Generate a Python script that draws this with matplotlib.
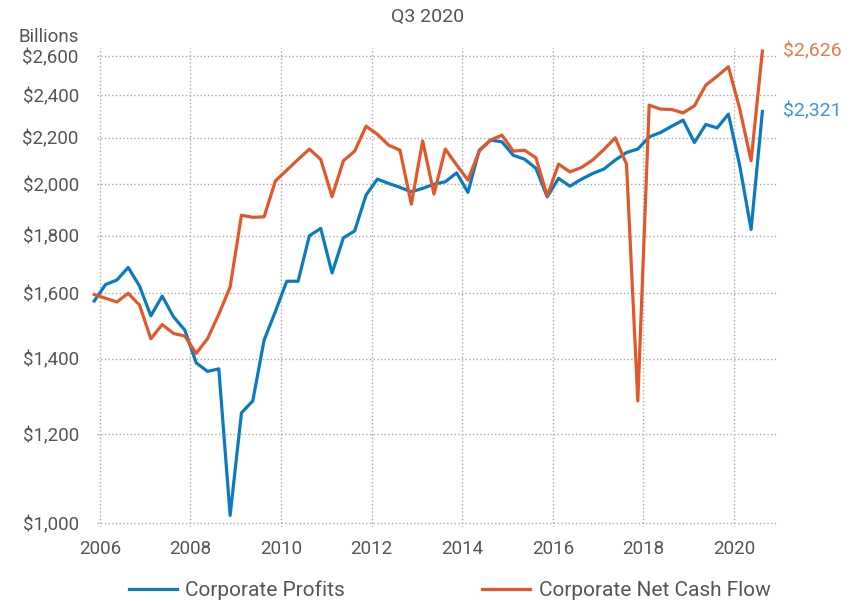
import numpy as np
import matplotlib
matplotlib.use("Agg")
import matplotlib.pyplot as plt
from matplotlib.ticker import FixedLocator, NullLocator

# quarterly values, 2005 Q4 .. 2020 Q3 (billions)
start_year = 2005.875
profits = [1575, 1629, 1644, 1687, 1624, 1528, 1591, 1525, 1484, 1388,
           1364, 1371, 1016, 1253, 1284, 1454, 1542, 1640, 1640, 1800,
           1827, 1668, 1792, 1818, 1956, 2021, 2003, 1987, 1969, 1983,
           2000, 2010, 2047, 1967, 2144, 2189, 2181, 2122, 2105, 2066,
           1949, 2024, 1992, 2020, 2044, 2063, 2101, 2134, 2149, 2203,
           2223, 2252, 2280, 2178, 2260, 2244, 2308, 2077, 1823, 2321]
cash_flow = [1596, 1584, 1572, 1600, 1562, 1458, 1501, 1474, 1466, 1415,
             1458, 1533, 1621, 1877, 1869, 1871, 2014, 2058, 2104, 2149,
             2104, 1950, 2098, 2140, 2252, 2215, 2166, 2144, 1920, 2185,
             1960, 2149, 2080, 2017, 2140, 2189, 2211, 2140, 2144, 2111,
             1953, 2084, 2051, 2069, 2101, 2147, 2199, 2084, 1284, 2351,
             2332, 2330, 2314, 2348, 2449, 2494, 2543, 2333, 2098, 2626]
x_years = [2006, 2008, 2010, 2012, 2014, 2016, 2018, 2020]
y_ticks = [1000, 1200, 1400, 1600, 1800, 2000, 2200, 2400, 2600]

blue = "#0b7bc0"
orange = "#e2582a"
grey = "#555555"

plt.rcParams['font.family'] = ['Roboto', 'DejaVu Sans']

t = start_year + 0.25 * np.arange(len(profits))

fig = plt.figure(figsize=(8.5, 6.01), dpi=100)
ax = fig.add_axes([0.114, 0.123, 0.8, 0.797])

ax.plot(t, profits, color=blue, lw=2.3, clip_on=False, label="Corporate Profits")
ax.plot(t, cash_flow, color=orange, lw=2.3, clip_on=False, label="Corporate Net Cash Flow")

ax.set_yscale("log")
ax.set_ylim(992, 2642)
ax.set_xlim(2005.934, 2020.945)
ax.yaxis.set_major_locator(FixedLocator(y_ticks))
ax.yaxis.set_minor_locator(NullLocator())
ax.set_yticklabels(["${:,}".format(v) for v in y_ticks])
ax.set_xticks(x_years)
ax.set_xticklabels([str(y) for y in x_years])

for s in ax.spines.values():
    s.set_visible(False)
ax.tick_params(length=0, labelsize=13.5, colors=grey)
ax.tick_params(axis="y", pad=13)
ax.tick_params(axis="x", pad=9)
ax.grid(True, color="#aaaaaa", linestyle=":", linewidth=1)

ax.text(t[-1] + 0.45, profits[-1], "${:,}".format(profits[-1]), color="#3d98cf",
        fontsize=14, va="center", ha="left")
ax.text(t[-1] + 0.45, cash_flow[-1], "${:,}".format(cash_flow[-1]), color="#e87a50",
        fontsize=14, va="center", ha="left")

fig.text(0.5035, 0.972, "Q3 2020", ha="center", va="center", fontsize=14, color=grey)
fig.text(0.093, 0.938, "Billions", ha="right", va="center", fontsize=13.5, color=grey)

fig.legend(loc="center", bbox_to_anchor=(0.529, 0.018), ncol=2, frameon=False,
           fontsize=15, handlelength=2.3, handletextpad=0.4, columnspacing=6.6,
           labelcolor=grey)

fig.savefig("out.png", dpi=100)
